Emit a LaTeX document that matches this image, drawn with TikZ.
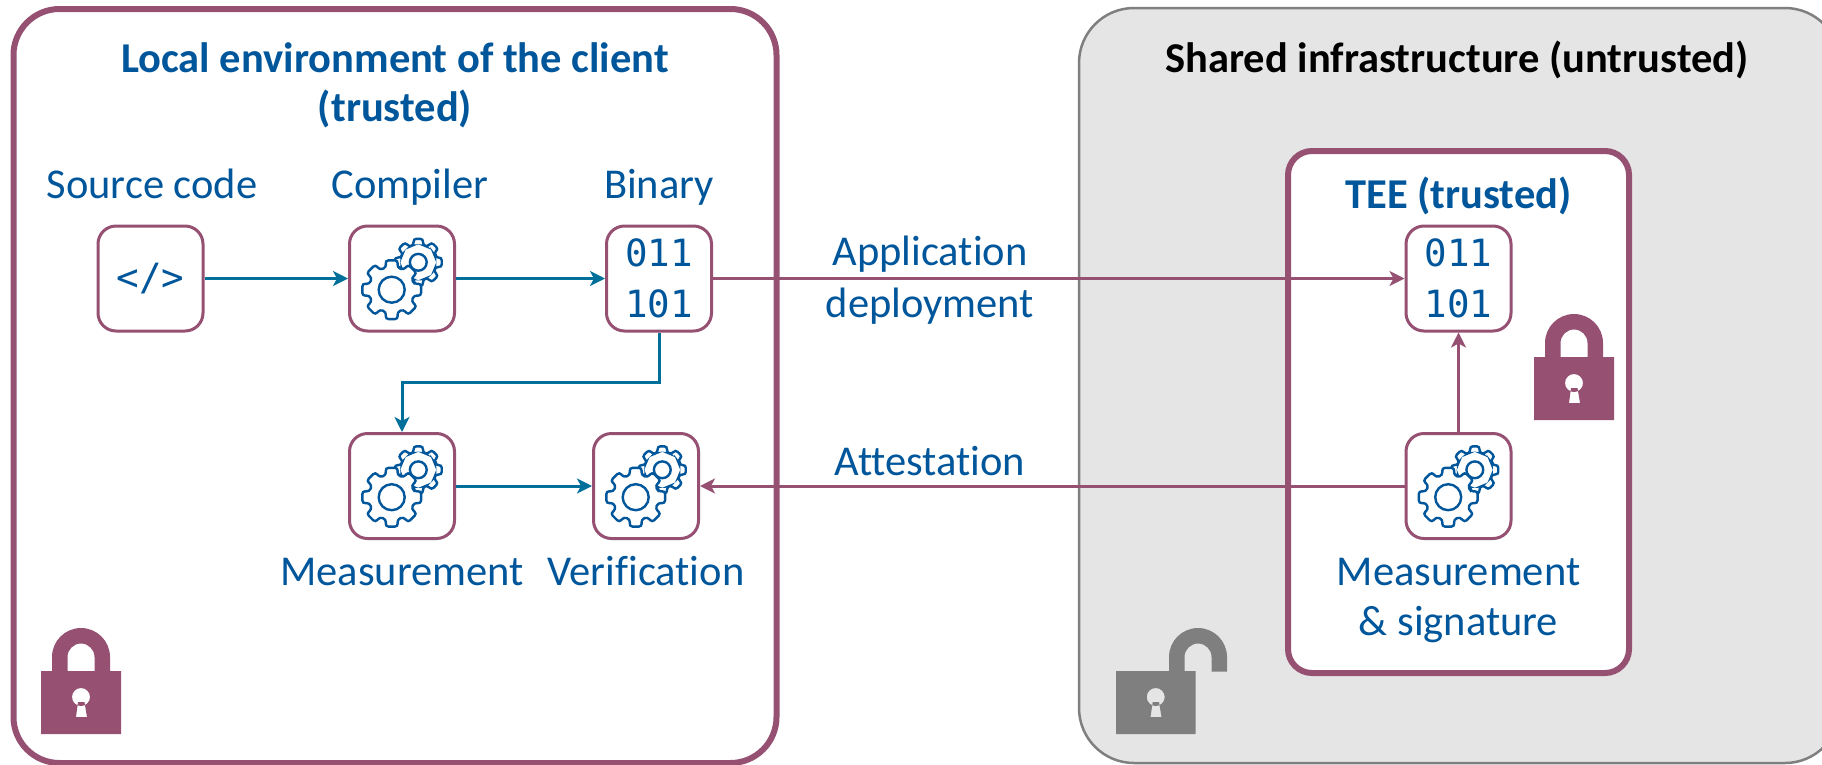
\documentclass[tikz,border=0pt]{standalone}
\usepackage{fontspec}
\setmainfont[Ligatures=CommonOff]{Carlito}
\newfontfamily\codefont{DejaVu Sans Mono}
\usetikzlibrary{arrows.meta}
\definecolor{plum}{HTML}{955072}
\definecolor{teal2}{HTML}{00709A}
\definecolor{txtblue}{HTML}{00569B}
\definecolor{grayline}{HTML}{7F7F7F}
\definecolor{grayfill}{HTML}{E5E5E5}
\newcommand{\gearshape}[4]{% cx cy outer root
  \draw[gearline] ({#1+#4*cos(-14)},{#2+#4*sin(-14)})
    \foreach \a in {0,45,...,315}{
     -- ({#1+#3*cos(\a-12)},{#2+#3*sin(\a-12)}) -- ({#1+#3*cos(\a+12)},{#2+#3*sin(\a+12)})
     -- ({#1+#4*cos(\a+14)},{#2+#4*sin(\a+14)}) -- ({#1+#4*cos(\a+31)},{#2+#4*sin(\a+31)})
     } -- cycle;
}
\tikzset{
  x=1pt,y=-1pt,
  gearline/.style={draw=txtblue,line width=2.4pt,fill=white,rounded corners=3pt},
  bigplum/.style={draw=plum,line width=6pt,fill=white,rounded corners=46pt,inner sep=0pt,minimum width=763pt,minimum height=754pt},
  biggray/.style={draw=grayline,line width=2.5pt,fill=grayfill,rounded corners=55pt,inner sep=0pt,minimum width=761pt,minimum height=755pt},
  teebox/.style={draw=plum,line width=6pt,fill=white,rounded corners=24pt,inner sep=0pt,minimum width=341pt,minimum height=522pt},
  smallbox/.style={draw=plum,line width=3pt,fill=white,rounded corners=18pt,inner sep=0pt,minimum width=105pt,minimum height=105pt,text=txtblue,align=center,font=\codefont\fontsize{37.5}{51.5}\selectfont},
  label/.style={inner sep=0pt,text=txtblue,align=center,font=\fontsize{42.5}{51.6}\selectfont},
  baselabel/.style={label,anchor=base},
  head/.style={inner sep=0pt,text=txtblue,align=center,font=\bfseries\fontsize{42.5}{49}\selectfont},
  tealarrow/.style={draw=teal2,line width=3pt,-{Stealth[length=15pt,width=15pt,inset=4pt]}},
  plumarrow/.style={draw=plum,line width=3pt,-{Stealth[length=15pt,width=15pt,inset=4pt]}},
  gears/.pic={
    \gearshape{16.3}{-16.2}{24}{18}
    \draw[gearline,rounded corners=0pt] (16.3,-16.2) circle (8.4);
    \gearshape{-10.3}{11.2}{30}{23}
    \draw[gearline,rounded corners=0pt] (-10.3,11.2) circle (13);
  },
}
\newcommand{\shackle}[3]{%
  \fill[#3] (#1-29,#2+0.5) -- (#1-29,#2-14) arc[x radius=29,y radius=29,start angle=180,end angle=360]
     -- (#1+29,#2+0.5) -- (#1+13.5,#2+0.5) -- (#1+13.5,#2-14)
     arc[x radius=13.5,y radius=13.5,start angle=360,end angle=180] -- (#1-13.5,#2+0.5) -- cycle;
}
\begin{document}
\begin{tikzpicture}
\path[use as bounding box] (0,0) rectangle (1822,764);
\clip (0,0) rectangle (1822,764);
\fill[white] (0,0) rectangle (1822,764);

\node[bigplum] (localenv) at (395,386) {};
\node[biggray] (shared) at (1459.5,385.5) {};
\node[teebox] (tee) at (1458.5,412) {};

\node[head] (localtitle) at (395,85) {Local environment of the client\\(trusted)};
\node[head,text=black] (sharedtitle) at (1457,60) {Shared infrastructure (untrusted)};
\node[head] (teetitle) at (1458.5,196) {TEE (trusted)};

\node[smallbox] (src) at (150.5,278.5) {</>};
\node[smallbox] (comp) at (402,278.5) {};
\node[smallbox] (bin) at (659,278.5) {011\\101};
\node[smallbox] (meas) at (402,486) {};
\node[smallbox] (verif) at (646,486) {};
\node[smallbox] (teebin) at (1458.5,278.5) {011\\101};
\node[smallbox] (teemeas) at (1458.5,486) {};

\pic at (comp) {gears};
\pic at (meas) {gears};
\pic at (verif) {gears};
\pic at (teemeas) {gears};

\node[baselabel] (srclabel) at (152,198) {Source code};
\node[baselabel] (complabel) at (410,198) {Compiler};
\node[baselabel] (binlabel) at (659,198) {Binary};
\node[label] (deploy) at (930,280) {Application\\deployment};
\node[baselabel] (attest) at (930,475.7) {Attestation};
\node[baselabel] (measlabel) at (402,585.7) {Measurement};
\node[baselabel] (veriflabel) at (646,585.7) {Verification};
\node[label,font=\fontsize{42.5}{50}\selectfont] (teemeaslabel) at (1458.5,601) {Measurement\\\& signature};

\coordinate (elbow) at (530,382);
\draw[tealarrow] (src) -- (comp);
\draw[tealarrow] (comp) -- (bin);
\draw[tealarrow] (bin.south) |- (elbow) -| (meas.north);
\draw[tealarrow] (meas) -- (verif);
\draw[plumarrow] (bin) -- (teebin);
\draw[plumarrow] (teemeas) -- (verif);
\draw[plumarrow] (teemeas) -- (teebin);

% padlocks
\shackle{81}{671}{plum}
\fill[plum,even odd rule] (41,671) rectangle (121,734)
  (81,697) circle (9)
  (78,702) -- (76,717) -- (87,717) -- (84.5,702) -- cycle;
\shackle{1574}{357}{plum}
\fill[plum,even odd rule] (1534,357) rectangle (1614,420)
  (1574,383) circle (9)
  (1571,388) -- (1569,403) -- (1580,403) -- (1577.5,388) -- cycle;
\shackle{1198}{671}{grayline}
\fill[grayline,even odd rule] (1116,671) rectangle (1195.5,734)
  (1155.7,697) circle (9)
  (1152.7,702) -- (1150.5,717) -- (1161.5,717) -- (1159,702) -- cycle;
\end{tikzpicture}
\end{document}
